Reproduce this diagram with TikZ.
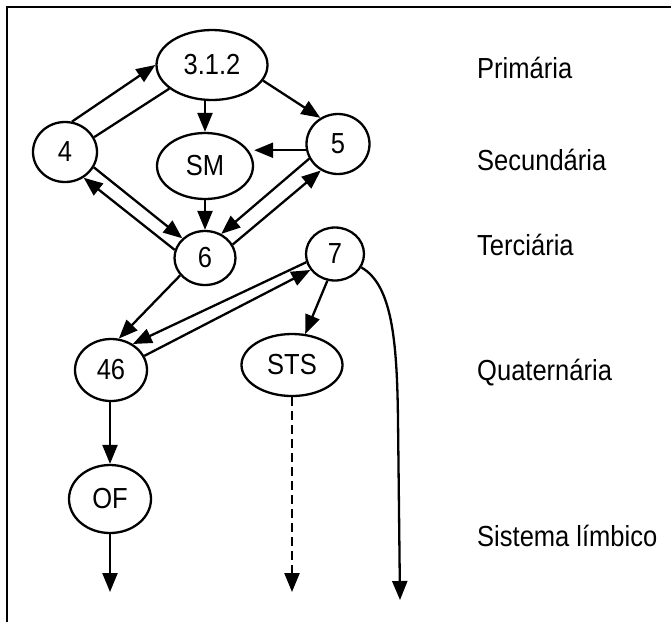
\documentclass[tikz,border=0pt]{standalone}
\usepackage{fontspec}
\setmainfont[FakeStretch=0.88]{Liberation Sans}
\usetikzlibrary{shapes.geometric,arrows.meta}
\begin{document}
\begin{tikzpicture}[x=1pt,y=-1pt,
  every node/.style={font=\fontsize{29}{34}\selectfont},
  area/.style={draw,ellipse,line width=2.3pt,inner sep=0pt},
  lbl/.style={anchor=base west,inner sep=0pt},
  conn/.style={line width=2.3pt},
  arr/.style={conn,-{Triangle[length=19pt,width=15pt]}},
  dasharr/.style={arr,dash pattern=on 9pt off 5pt}]
\useasboundingbox (0,0) rectangle (671,622);
\draw[line width=2.8pt] (7,622) -- (7,7) -- (671,7);
% nodes
\node[area,minimum width=111pt,minimum height=70pt] (n312) at (212,65) {3.1.2};
\node[area,minimum width=64pt,minimum height=60pt] (n4) at (65,152) {4};
\node[area,minimum width=96pt,minimum height=66pt] (nSM) at (205,166) {SM};
\node[area,minimum width=63pt,minimum height=60pt] (n5) at (338,144) {5};
\node[area,minimum width=61pt,minimum height=54pt] (n6) at (205,258) {6};
\node[area,minimum width=58pt,minimum height=53pt] (n7) at (335,254) {7};
\node[area,minimum width=72pt,minimum height=62pt] (n46) at (111,370) {46};
\node[area,minimum width=101pt,minimum height=62pt] (nSTS) at (292,365) {STS};
\node[area,minimum width=82pt,minimum height=68pt] (nOF) at (110,499) {OF};
% labels
\node[lbl] (l1) at (477,78) {Primária};
\node[lbl] (l2) at (477,170) {Secundária};
\node[lbl] (l3) at (477,255) {Terciária};
\node[lbl] (l4) at (477,380) {Quaternária};
\node[lbl] (l5) at (477,546) {Sistema límbico};
% free ends
\coordinate (e1) at (110,592);
\coordinate (e2) at (292,592);
\coordinate (e3) at (400,600);
% connectors
\draw[arr] (n4.77) -- (n312.180);
\draw[conn] (n312.209) -- (n4.27);
\draw[arr] (n312.south -| nSM.north) -- (nSM.north);
\draw[arr] (n312.-17) -- (n5.124);
\draw[arr] (n5.191) -- (nSM.east |- n5.191);
\draw[arr] (nSM.south) -- (n6.north);
\draw[arr] (n4.-28) -- (n6.139);
\draw[arr] (n6.165) -- (n4.-54);
\draw[arr] (n5.207) -- (n6.56);
\draw[arr] (n6.26) -- (n5.237);
\draw[arr] (n6.215) -- (n46.76);
\draw[arr] (n7.196) -- (n46.50);
\draw[arr] (n46.23) -- (n7.213);
\draw[arr] (n7.254) -- (nSTS.67);
\draw[arr] (n46.south -| nOF.north) -- (nOF.north);
\draw[arr] (nOF.south) -- (e1);
\draw[dasharr] (nSTS.south) -- (e2);
\draw[arr] (n7.-27) .. controls (392,285) and (397,340) .. (398,420) -- (e3);
\end{tikzpicture}
\end{document}
